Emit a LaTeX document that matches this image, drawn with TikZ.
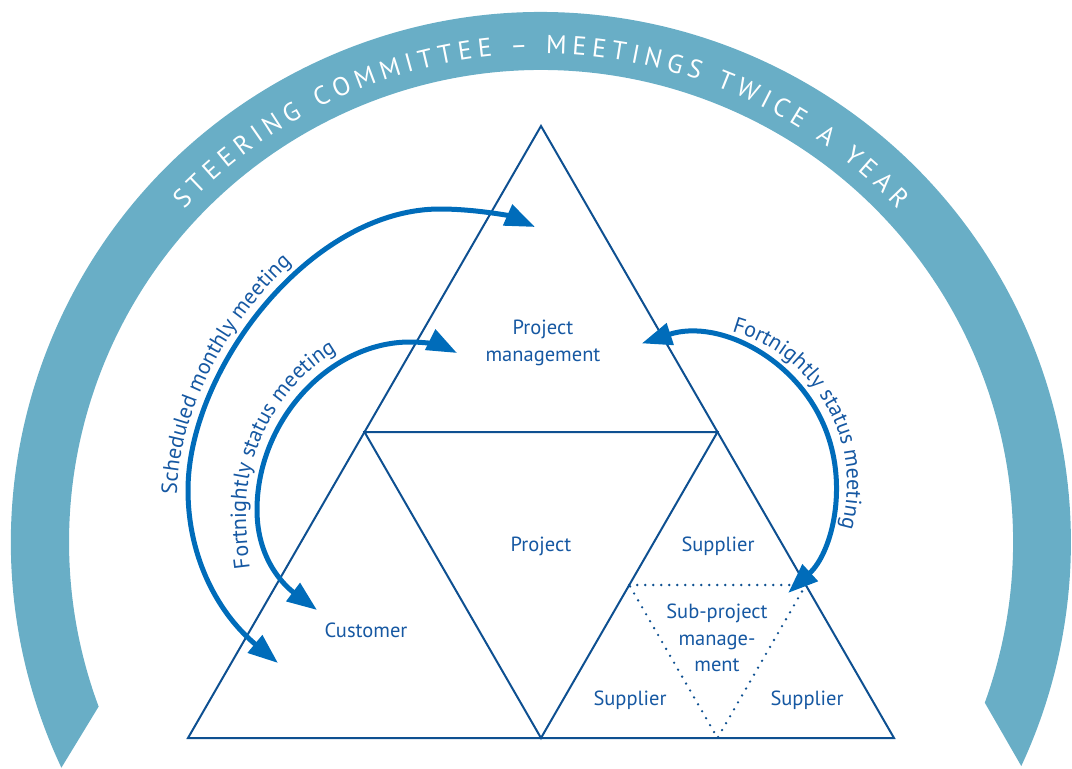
\documentclass[tikz,border=0pt]{standalone}
\usepackage{fontspec}
\setmainfont{PT Sans}
\usetikzlibrary{arrows.meta,decorations.text}
\definecolor{band}{RGB}{105,174,198}
\definecolor{tri}{RGB}{14,80,145}
\definecolor{txt}{RGB}{22,88,162}
\definecolor{arr}{RGB}{0,108,186}
\newcommand\bandfont{\fontsize{26pt}{26pt}\selectfont}
\newcommand\curvefont{\fontsize{22pt}{22pt}\selectfont}
\begin{document}
\begin{tikzpicture}[x=1pt,y=1pt,
  triline/.style={draw=tri, line width=2pt, line join=miter},
  dotline/.style={draw=tri, line width=2.6pt, dash pattern=on 0pt off 8pt, line cap=round},
  meet/.style={draw=arr, line width=5pt, {Triangle[length=30pt,width=22pt]}-{Triangle[length=30pt,width=22pt]}},
  lbl/.style={text=txt, font=\fontsize{20.5pt}{26.5pt}\selectfont, align=center, inner sep=0pt},
  curvelbl/.style={decorate, decoration={text along path, text align=left, text color=txt, text={|\curvefont|#1}}},
]
\useasboundingbox (0,0) rectangle (1072,-769);
% steering committee band
\fill[band] (61.4,-767.7) arc[start angle=205.2, end angle=-25, radius=530]
  -- (984.8,-702.7) arc[start angle=-19.9, end angle=200.4, radius=472] -- cycle;
\path[decorate, decoration={text along path, text align={fit to path}, text color=white,
  text={|\bandfont|STEERING COMMITTEE – MEETINGS TWICE A YEAR}}]
  (184.1,-209.2) arc[start angle=137, end angle=43, radius=488];
% triangles
\coordinate (A) at (541,-126);
\coordinate (BL) at (188,-738);
\coordinate (BR) at (894,-738);
\coordinate (ML) at (364.5,-432);
\coordinate (MR) at (717.5,-432);
\coordinate (MB) at (541,-738);
\coordinate (D1) at (629.25,-585);
\coordinate (D2) at (805.75,-585);
\coordinate (D3) at (717.5,-738);
\draw[triline] (A) -- (BR) -- (BL) -- cycle;
\draw[triline] (ML) -- (MR) -- (MB) -- cycle;
\draw[dotline] (D1) -- (D2) -- (D3) -- cycle;
% labels
\node[lbl] (pm) at (543,-343) {Project\\management};
\node[lbl] (proj) at (541,-546) {Project};
\node[lbl] (cust) at (366,-630) {Customer};
\node[lbl] (sup1) at (718,-546) {Supplier};
\node[lbl] (spm) at (717,-638) {Sub-project\\manage-\\ment};
\node[lbl] (sup2) at (630,-700) {Supplier};
\node[lbl] (sup3) at (807,-700) {Supplier};
% arrows
\coordinate (a1s) at (278,-663);
\coordinate (a1e) at (535,-227);
\coordinate (a2s) at (317,-610);
\coordinate (a2e) at (457,-353);
\coordinate (a3s) at (641.8,-343.4);
\draw[meet] (a1s) .. controls (220,-615) and (188,-560) .. (188,-490)
  .. controls (188,-370) and (310,-209) .. (440,-209)
  .. controls (475,-209) and (510,-216) .. (a1e);
\draw[meet] (a2s) .. controls (285,-586) and (257,-560) .. (257,-510)
  .. controls (257,-420) and (330,-342) .. (410,-342)
  .. controls (428,-342) and (443,-346) .. (a2e);
\draw[meet] (a3s) arc[start angle=108.2, end angle=-47.4, radius=148];
% curved labels
\path[curvelbl={Scheduled monthly meeting}] (177,-494) .. controls (177,-372) and (300,-198) .. (440,-198)
  .. controls (470,-198) and (500,-202) .. (530,-211);
\path[curvelbl={Fortnightly status meeting}] (250,-568) .. controls (247,-545) and (246,-530) .. (246,-510)
  .. controls (246,-414) and (325,-330) .. (410,-330) .. controls (425,-330) and (440,-332) .. (450,-335);
\path[curvelbl={Fortnightly status meeting}] (731.8,-331.2) arc[start angle=74, end angle=-60, radius=159];
\end{tikzpicture}
\end{document}
